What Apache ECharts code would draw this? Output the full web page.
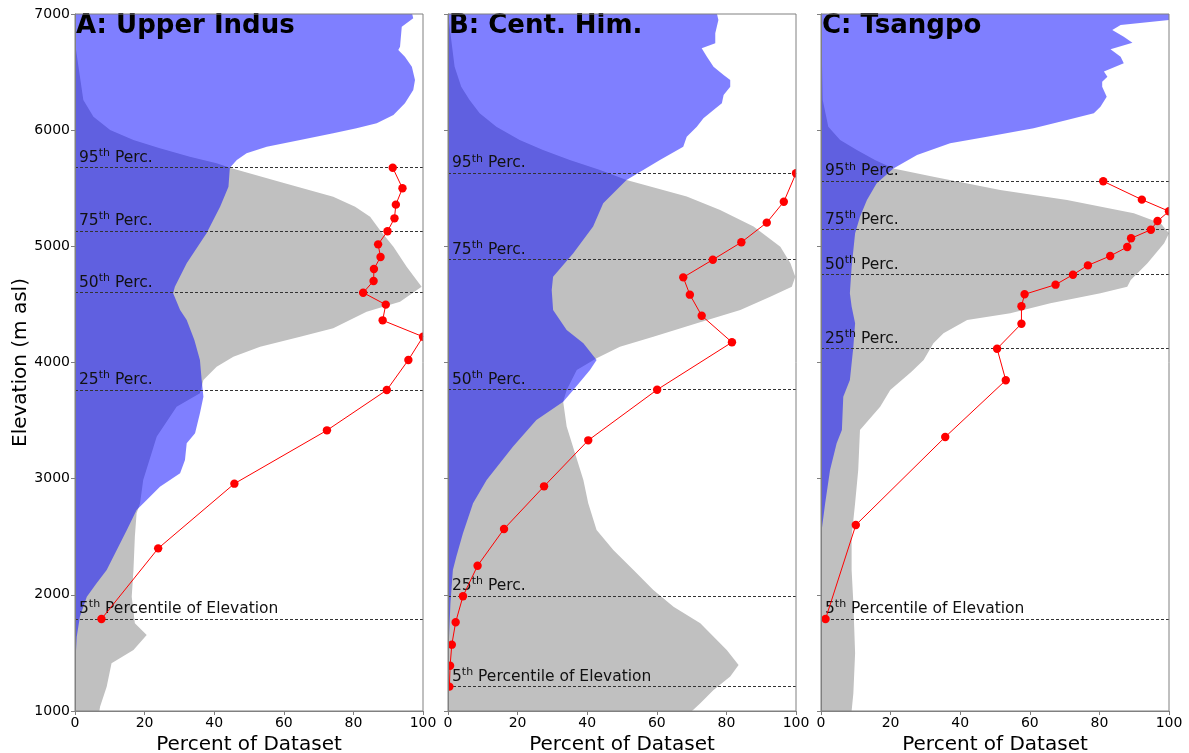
<!DOCTYPE html>
<html>
<head>
<meta charset="utf-8">
<script src="https://cdn.jsdelivr.net/npm/echarts@6.0.0/dist/echarts.min.js"></script>
<style>
  html, body { margin: 0; padding: 0; background: #ffffff; }
  #chart { width: 1189px; height: 753px; }
</style>
</head>
<body>
<div id="chart"></div>
<script>
// Hypsometry panels: elevation distribution (grey), glacier/snow distribution (blue),
// and per-band percentage (red) for three basins. Pairs are [elevation m, percent].

const panelTitles = ['A: Upper Indus', 'B: Cent. Him.', 'C: Tsangpo'];
const percentileRanks = [95, 75, 50, 25, 5];

// A: Upper Indus
const indusGrey = [
  [7000, 0], [6690, 0.3], [6260, 2.4], [6116, 5.3], [6001, 10.1], [5915, 16.8], [5844, 24.4],
  [5772, 33.0], [5715, 40.7], [5677, 44.5], [5550, 59.5], [5427, 74.2], [5340, 80.5],
  [5255, 84.8], [5141, 87.6], [4997, 91.5], [4825, 95.3], [4653, 99.6], [4523, 93.4],
  [4437, 83.8], [4294, 74.2], [4222, 64.7], [4136, 53.2], [4050, 45.5], [3964, 40.7],
  [3850, 36.9], [3735, 35.9], [3620, 29.2], [3362, 23.5], [2989, 19.6], [2788, 18.7],
  [2702, 17.7], [2500, 17.2], [2214, 16.8], [1984, 16.3], [1755, 17.2], [1654, 20.6],
  [1525, 16.8], [1411, 10.5], [1209, 9.1], [1037, 7.2], [1000, 7.0]
];
const indusBlue = [
  [7000, 96.9], [6963, 97.2], [6891, 93.9], [6719, 93.4], [6690, 92.9], [6633, 94.8],
  [6546, 96.8], [6432, 97.7], [6346, 97.2], [6231, 94.8], [6131, 91.5], [6059, 86.7],
  [6016, 80.9], [5973, 74.2], [5915, 64.7], [5858, 55.1], [5801, 49.3], [5743, 46.5],
  [5677, 44.5], [5513, 44.1], [5341, 41.7], [5112, 37.8], [4854, 32.1], [4653, 28.7],
  [4596, 28.2], [4452, 30.2], [4366, 32.1], [4194, 34.3], [4022, 35.9], [3850, 36.4],
  [3706, 36.9], [3563, 35.9], [3391, 34.5], [3305, 32.1], [3161, 31.6], [3046, 30.2],
  [2931, 24.4], [2816, 20.6], [2730, 17.7], [2558, 14.9], [2386, 12.0], [2214, 9.1],
  [2099, 6.2], [1984, 3.4], [1812, 1.4], [1640, 0.5], [1353, 0], [1000, 0]
];
const indusRed = [
  [5677, 91.3], [5500, 94.1], [5359, 92.2], [5241, 91.8], [5130, 89.8], [5017, 87.1],
  [4908, 87.8], [4805, 85.9], [4702, 85.8], [4601, 82.8], [4498, 89.3], [4363, 88.4],
  [4222, 100], [4022, 95.8], [3763, 89.6], [3416, 72.4], [2957, 45.8], [2400, 23.9], [1792, 7.6]
];
const indusPercentiles = [5677, 5132, 4601, 3763, 1792];

// B: Central Himalaya
const himGrey = [
  [7000, 0], [6834, 0.7], [6546, 1.9], [6374, 3.8], [6260, 6.2], [6145, 9.1], [6030, 13.9],
  [5915, 20.6], [5829, 27.3], [5743, 35.0], [5657, 43.7], [5571, 51.3], [5428, 68.6],
  [5313, 78.2], [5170, 87.8], [4997, 95.5], [4854, 98.4], [4739, 99.8], [4653, 98.8],
  [4567, 92.6], [4452, 84.0], [4337, 71.5], [4222, 59.0], [4136, 49.4], [4036, 42.7],
  [3936, 37.0], [3764, 34.1], [3663, 33.1], [3449, 34.1], [3219, 36.5], [2989, 38.9],
  [2788, 40.3], [2558, 42.7], [2386, 47.5], [2214, 53.3], [2042, 59.0], [1898, 64.8],
  [1755, 72.5], [1525, 80.1], [1396, 83.5], [1296, 81.1], [1181, 76.3], [1066, 72.5],
  [1000, 70.1]
];
const himBlue = [
  [7000, 77.3], [6948, 77.7], [6834, 76.8], [6748, 76.8], [6705, 72.9], [6633, 74.4],
  [6546, 76.3], [6475, 79.2], [6432, 81.1], [6374, 81.1], [6303, 79.2], [6231, 78.7],
  [6174, 76.3], [6102, 73.4], [6030, 71.5], [5944, 68.6], [5858, 67.6], [5743, 60.9],
  [5571, 51.3], [5371, 44.6], [5170, 41.7], [4940, 36.0], [4739, 30.2], [4624, 29.8],
  [4452, 30.2], [4280, 34.1], [4165, 38.9], [4022, 42.7], [3936, 40.8], [3764, 36.0],
  [3663, 33.1], [3505, 25.4], [3276, 18.7], [2989, 11.1], [2788, 7.2], [2530, 4.3],
  [2329, 2.4], [2214, 1.4], [1927, 0.7], [1640, 0.3], [1300, 0], [1000, 0]
];
const himRed = [
  [5629, 100], [5384, 96.5], [5204, 91.6], [5035, 84.3], [4885, 76.1], [4733, 67.6],
  [4584, 69.5], [4403, 72.9], [4174, 81.6], [3766, 60.1], [3330, 40.3], [2934, 27.6],
  [2567, 16.1], [2251, 8.5], [1988, 4.3], [1764, 2.2], [1571, 1.1], [1390, 0.6], [1210, 0.4]
];
const himPercentiles = [5629, 4885, 3766, 1990, 1210];

// C: Tsangpo
const tsangpoGrey = [
  [7000, 0], [6260, 0.5], [6030, 2.1], [5915, 5.5], [5829, 10.3], [5743, 15.5], [5671, 20.8],
  [5600, 32.3], [5485, 51.5], [5399, 70.7], [5284, 89.9], [5198, 97.6], [5112, 100],
  [5026, 98.6], [4854, 93.8], [4710, 89.0], [4653, 88.0], [4596, 80.3], [4509, 65.9],
  [4423, 54.4], [4366, 42.0], [4251, 35.2], [4165, 32.3], [4022, 29.5], [3920, 26.0],
  [3764, 19.9], [3620, 17.0], [3419, 11.2], [3075, 10.7], [2788, 9.8], [2501, 8.8],
  [2214, 8.8], [1927, 9.3], [1497, 9.8], [1152, 9.3], [1000, 8.8]
];
const tsangpoBlue = [
  [7000, 100], [6948, 100], [6905, 86.1], [6862, 83.7], [6805, 87.0], [6753, 89.5],
  [6696, 83.2], [6633, 86.1], [6576, 87.0], [6504, 81.3], [6460, 82.3], [6417, 80.8],
  [6374, 80.8], [6288, 82.1], [6202, 80.3], [6145, 78.4], [6088, 70.7], [6016, 61.1],
  [5944, 47.7], [5887, 37.1], [5786, 27.6], [5671, 20.8], [5542, 16.0], [5399, 13.2],
  [5255, 11.2], [5112, 9.8], [4825, 8.8], [4596, 8.3], [4481, 8.8], [4337, 9.8],
  [4136, 9.3], [3850, 8.3], [3706, 6.4], [3419, 6.0], [3305, 4.5], [3075, 2.6],
  [2788, 1.2], [2558, 0.2], [2450, 0], [1000, 0]
];
const tsangpoRed = [
  [5560, 81.1], [5402, 92.2], [5302, 100], [5218, 96.7], [5143, 94.8], [5069, 89.1],
  [4994, 88.0], [4917, 83.1], [4836, 76.7], [4756, 72.4], [4670, 67.4], [4587, 58.5],
  [4484, 57.6], [4334, 57.6], [4119, 50.6], [3847, 53.1], [3359, 35.7], [2601, 10.0], [1792, 1.3]
];
const tsangpoPercentiles = [5560, 5143, 4756, 4119, 1792];

const xTicks = [0, 20, 40, 60, 80, 100];
const yTicks = [1000, 2000, 3000, 4000, 5000, 6000, 7000];

const panels = [
  { grey: indusGrey, blue: indusBlue, red: indusRed, pct: indusPercentiles },
  { grey: himGrey, blue: himBlue, red: himRed, pct: himPercentiles },
  { grey: tsangpoGrey, blue: tsangpoBlue, red: tsangpoRed, pct: tsangpoPercentiles }
];

const FONT = 'DejaVu Sans';
const SPINE = '#808080';
const RED = '#ff0000';
const gridLefts = [75, 448, 821];

// Filled profile: polygon between x = 0 and the profile, drawn through the axis scales.
function profileSeries(profile, gridIndex, fill) {
  return {
    type: 'custom',
    xAxisIndex: gridIndex,
    yAxisIndex: gridIndex,
    silent: true,
    clip: true,
    data: profile.map(p => [p[1], p[0]]),
    renderItem: function (params, api) {
      if (params.dataIndex !== 0) return null;
      const pts = [api.coord([0, profile[0][0]])];
      profile.forEach(p => pts.push(api.coord([p[1], p[0]])));
      pts.push(api.coord([0, profile[profile.length - 1][0]]));
      return { type: 'polygon', shape: { points: pts }, style: { fill: fill } };
    }
  };
}

// Round markers clipped to the plot frame (points on the edge show half a dot).
function markerSeries(points, gridIndex) {
  return {
    type: 'custom',
    xAxisIndex: gridIndex,
    yAxisIndex: gridIndex,
    silent: true,
    clip: true,
    z: 6,
    data: points.map(p => [p[1], p[0]]),
    renderItem: function (params, api) {
      const c = api.coord([api.value(0), api.value(1)]);
      return { type: 'circle', shape: { cx: c[0], cy: c[1], r: 4.2 }, style: { fill: RED } };
    }
  };
}

function percentileLabel(rank) {
  const tail = rank === 5 ? ' Percentile of Elevation' : ' Perc.';
  return '{n|' + rank + '}{s|th}{n|' + tail + '}';
}

const grids = [], xAxes = [], yAxes = [], series = [], titles = [];

panels.forEach((panel, i) => {
  grids.push({
    left: gridLefts[i], top: 14, width: 348, height: 697,
    outerBoundsMode: 'none', containLabel: false,
    show: true, borderColor: SPINE, borderWidth: 1, backgroundColor: 'transparent', z: 10
  });
  xAxes.push({
    type: 'value', gridIndex: i, min: xTicks[0], max: xTicks[xTicks.length - 1], interval: 20,
    z: 10,
    name: 'Percent of Dataset', nameLocation: 'middle', nameGap: 14,
    nameTextStyle: { fontFamily: FONT, fontSize: 20, color: '#000' },
    axisLine: { show: true, lineStyle: { color: SPINE, width: 1 } },
    axisTick: { show: true, inside: false, length: 4, lineStyle: { color: SPINE } },
    axisLabel: { fontFamily: FONT, fontSize: 14, color: '#000', margin: 5 },
    splitLine: { show: false }
  });
  yAxes.push({
    type: 'value', gridIndex: i, min: yTicks[0], max: yTicks[yTicks.length - 1], interval: 1000,
    z: 10,
    name: i === 0 ? 'Elevation (m asl)' : '', nameLocation: 'middle', nameGap: 42,
    nameTextStyle: { fontFamily: FONT, fontSize: 20, color: '#000' },
    axisLine: { show: true, lineStyle: { color: SPINE, width: 1 } },
    axisTick: { show: true, inside: false, length: 4, lineStyle: { color: SPINE } },
    axisLabel: {
      show: i === 0, fontFamily: FONT, fontSize: 14, color: '#000', margin: 5,
      formatter: v => String(v)
    },
    splitLine: { show: false }
  });
  titles.push({
    text: panelTitles[i], left: gridLefts[i] + 1, top: 13, padding: 0,
    textStyle: { fontFamily: FONT, fontSize: 26, fontWeight: 'bold', color: '#000' }
  });

  series.push(profileSeries(panel.grey, i, '#c0c0c0'));
  series.push(profileSeries(panel.blue, i, 'rgba(0,0,255,0.5)'));
  series.push({
    type: 'line',
    xAxisIndex: i, yAxisIndex: i,
    data: panel.red.map(p => [p[1], p[0]]),
    symbol: 'none',
    lineStyle: { color: RED, width: 1 },
    z: 5,
    markLine: {
      silent: true, symbol: 'none', animation: false,
      lineStyle: { type: [3, 2], color: '#333', width: 1 },
      label: {
        position: 'insideStartTop', distance: [4, 0],
        rich: {
          n: { fontFamily: FONT, fontSize: 15.5, lineHeight: 20, color: '#111' },
          s: { fontFamily: FONT, fontSize: 11, lineHeight: 11, color: '#111', verticalAlign: 'top' }
        }
      },
      data: panel.pct.map((elev, k) => ({
        yAxis: elev,
        label: { formatter: percentileLabel(percentileRanks[k]) }
      }))
    }
  });
  series.push(markerSeries(panel.red, i));
});

const chart = echarts.init(document.getElementById('chart'), null, { renderer: 'canvas' });
chart.setOption({
  animation: false,
  backgroundColor: '#ffffff',
  title: titles,
  grid: grids,
  xAxis: xAxes,
  yAxis: yAxes,
  series: series
});
</script>
</body>
</html>
